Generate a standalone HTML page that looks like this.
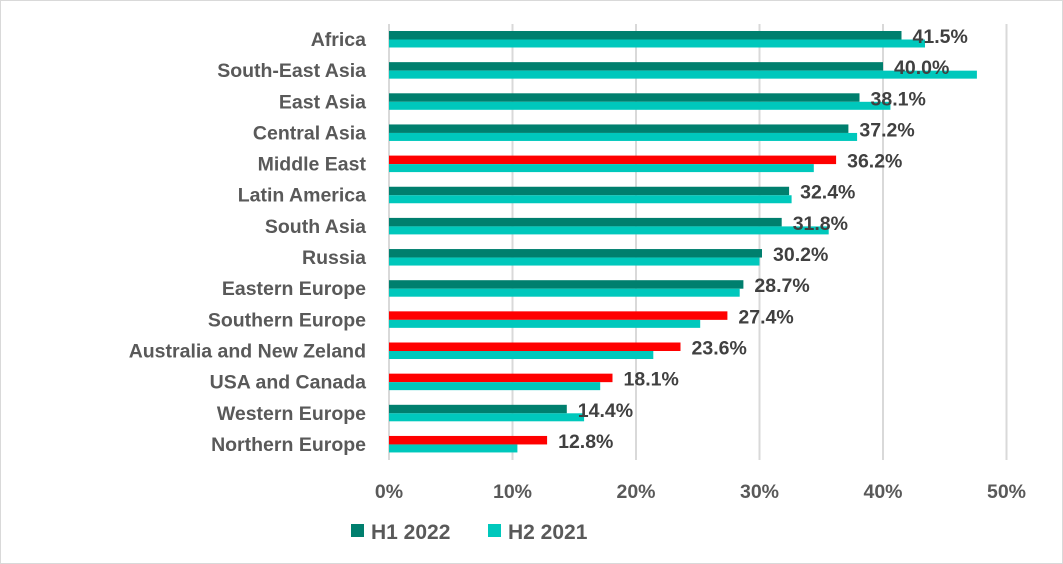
<!DOCTYPE html>
<html><head><meta charset="utf-8"><style>
html,body{margin:0;padding:0;background:#fff}
svg{display:block;font-family:"Liberation Sans",Arial,sans-serif;font-weight:bold}
</style></head><body>
<svg width="1063" height="564" viewBox="0 0 1063 564">
<rect x="0.5" y="0.5" width="1062" height="563" fill="#fff" stroke="#d9d9d9"/>
<g stroke="#d9d9d9" stroke-width="2">
<line x1="389" y1="24" x2="389" y2="460"/>
<line x1="512.5" y1="24" x2="512.5" y2="460"/>
<line x1="636" y1="24" x2="636" y2="460"/>
<line x1="759.5" y1="24" x2="759.5" y2="460"/>
<line x1="883" y1="24" x2="883" y2="460"/>
<line x1="1006.5" y1="24" x2="1006.5" y2="460"/>
</g>
<g>
<rect x="389" y="31" width="512.5" height="8.5" fill="#007f6e"/><rect x="389" y="39.5" width="536" height="8" fill="#00c8bc"/>
<rect x="389" y="62.15" width="494" height="8.5" fill="#007f6e"/><rect x="389" y="70.65" width="587.9" height="8" fill="#00c8bc"/>
<rect x="389" y="93.3" width="470.5" height="8.5" fill="#007f6e"/><rect x="389" y="101.8" width="501.4" height="8" fill="#00c8bc"/>
<rect x="389" y="124.45" width="459.4" height="8.5" fill="#007f6e"/><rect x="389" y="132.95" width="468.1" height="8" fill="#00c8bc"/>
<rect x="389" y="155.6" width="447.1" height="8.5" fill="#ff0000"/><rect x="389" y="164.1" width="424.8" height="8" fill="#00c8bc"/>
<rect x="389" y="186.75" width="400.1" height="8.5" fill="#007f6e"/><rect x="389" y="195.25" width="402.6" height="8" fill="#00c8bc"/>
<rect x="389" y="217.9" width="392.7" height="8.5" fill="#007f6e"/><rect x="389" y="226.4" width="439.7" height="8" fill="#00c8bc"/>
<rect x="389" y="249.05" width="373" height="8.5" fill="#007f6e"/><rect x="389" y="257.55" width="370.5" height="8" fill="#00c8bc"/>
<rect x="389" y="280.2" width="354.4" height="8.5" fill="#007f6e"/><rect x="389" y="288.7" width="350.7" height="8" fill="#00c8bc"/>
<rect x="389" y="311.35" width="338.4" height="8.5" fill="#ff0000"/><rect x="389" y="319.85" width="311.2" height="8" fill="#00c8bc"/>
<rect x="389" y="342.5" width="291.5" height="8.5" fill="#ff0000"/><rect x="389" y="351" width="264.3" height="8" fill="#00c8bc"/>
<rect x="389" y="373.65" width="223.5" height="8.5" fill="#ff0000"/><rect x="389" y="382.15" width="211.2" height="8" fill="#00c8bc"/>
<rect x="389" y="404.8" width="177.8" height="8.5" fill="#007f6e"/><rect x="389" y="413.3" width="195.1" height="8" fill="#00c8bc"/>
<rect x="389" y="435.95" width="158.1" height="8.5" fill="#ff0000"/><rect x="389" y="444.45" width="128.4" height="8" fill="#00c8bc"/>
</g>
<g font-size="19.5" fill="#595959" text-anchor="end">
<text x="366" y="46">Africa</text>
<text x="366" y="77.1">South-East Asia</text>
<text x="366" y="108.3">East Asia</text>
<text x="366" y="139.5">Central Asia</text>
<text x="366" y="170.6">Middle East</text>
<text x="366" y="201.7">Latin America</text>
<text x="366" y="232.9">South Asia</text>
<text x="366" y="264">Russia</text>
<text x="366" y="295.2">Eastern Europe</text>
<text x="366" y="326.3">Southern Europe</text>
<text x="366" y="357.5">Australia and New Zeland</text>
<text x="366" y="388.6">USA and Canada</text>
<text x="366" y="419.8">Western Europe</text>
<text x="366" y="450.9">Northern Europe</text>
</g>
<g font-size="19.5" fill="#404040">
<text x="912.5" y="43">41.5%</text>
<text x="894" y="74.1">40.0%</text>
<text x="870.5" y="105.3">38.1%</text>
<text x="859.4" y="136.5">37.2%</text>
<text x="847.1" y="167.6">36.2%</text>
<text x="800.1" y="198.7">32.4%</text>
<text x="792.7" y="229.9">31.8%</text>
<text x="773" y="261">30.2%</text>
<text x="754.4" y="292.2">28.7%</text>
<text x="738.4" y="323.3">27.4%</text>
<text x="691.5" y="354.5">23.6%</text>
<text x="623.5" y="385.6">18.1%</text>
<text x="577.8" y="416.8">14.4%</text>
<text x="558.1" y="447.9">12.8%</text>
</g>
<g font-size="19.5" fill="#595959" text-anchor="middle">
<text x="389" y="498">0%</text><text x="512.5" y="498">10%</text><text x="636" y="498">20%</text>
<text x="759.5" y="498">30%</text><text x="883" y="498">40%</text><text x="1006.5" y="498">50%</text>
</g>
<rect x="351" y="524" width="13" height="13" fill="#007f6e"/>
<text x="371" y="539" font-size="21" fill="#595959">H1 2022</text>
<rect x="488" y="524" width="13" height="13" fill="#00c8bc"/>
<text x="508" y="539" font-size="21" fill="#595959">H2 2021</text>
</svg>
</body></html>
